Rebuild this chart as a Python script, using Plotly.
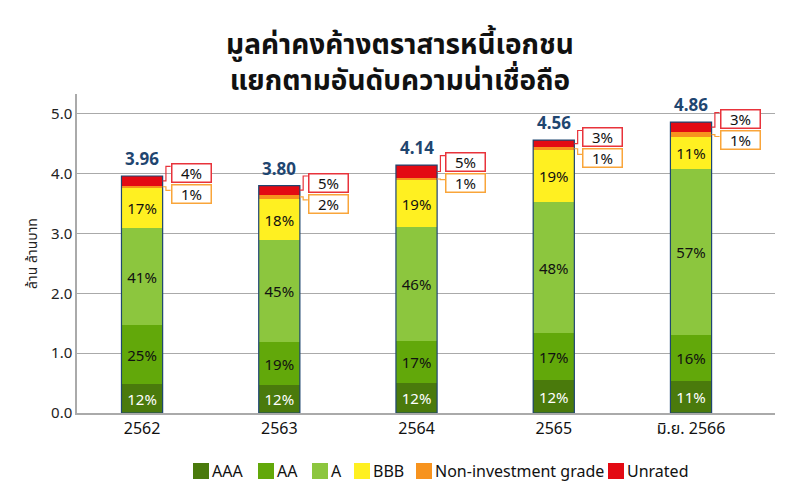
import plotly.graph_objects as go

categories = ["2562", "2563", "2564", "2565", "มิ.ย. 2566"]
totals = [3.96, 3.80, 4.14, 4.56, 4.86]

series_names = ["AAA", "AA", "A", "BBB", "Non-investment grade", "Unrated"]
aaa = [0.48, 0.46, 0.50, 0.55, 0.53]
aa = [0.99, 0.72, 0.70, 0.78, 0.78]
a_ = [1.62, 1.71, 1.90, 2.19, 2.77]
bbb = [0.67, 0.68, 0.79, 0.87, 0.53]
noninv = [0.04, 0.08, 0.04, 0.05, 0.08]
unrated = [0.16, 0.15, 0.21, 0.12, 0.17]

pct_aaa = ["12%", "12%", "12%", "12%", "11%"]
pct_aa = ["25%", "19%", "17%", "17%", "16%"]
pct_a = ["41%", "45%", "46%", "48%", "57%"]
pct_bbb = ["17%", "18%", "19%", "19%", "11%"]
pct_noninv = ["1%", "2%", "1%", "1%", "1%"]
pct_unrated = ["4%", "5%", "5%", "3%", "3%"]

colors = ["#4a7a0c", "#62a80a", "#8cc63e", "#fff021", "#f7931e", "#e30a13"]
navy = "#1f4670"
FONT = "Noto Sans, Noto Sans Thai, sans-serif"

values = [aaa, aa, a_, bbb, noninv, unrated]
labels = [pct_aaa, pct_aa, pct_a, pct_bbb, None, None]
text_colors = ["white", "#111111", "#111111", "#111111", "#111111", "#111111"]

xs = list(range(len(categories)))
BW = 0.30

fig = go.Figure()
for name, vals, lab, col, tc in zip(series_names, values, labels, colors, text_colors):
    fig.add_trace(go.Bar(
        x=xs, y=vals, name=name, width=BW,
        marker=dict(color=col, line=dict(width=0)),
        text=lab if lab else None,
        textposition="inside" if lab else "none",
        insidetextanchor="middle",
        textfont=dict(size=15, color=tc, family=FONT),
        hoverinfo="skip", showlegend=False,
    ))

shapes = []
annotations = []
half = BW / 2
for i, tot in enumerate(totals):
    shapes.append(dict(type="rect", xref="x", yref="y", x0=i - half, x1=i + half,
                       y0=0, y1=tot, line=dict(color=navy, width=1.2), fillcolor="rgba(0,0,0,0)",
                       layer="above"))
    annotations.append(dict(x=i, y=tot, xref="x", yref="y", text="<b>%.2f</b>" % tot,
                            showarrow=False, yanchor="bottom", yshift=4,
                            font=dict(size=17, color=navy, family=FONT)))
    bx = i + half + 0.058
    ex = i + half + 0.024
    y_red_mid = tot - unrated[i] / 2
    y_red_box = tot + 0.05
    shapes.append(dict(type="path", xref="x", yref="y",
                       path="M %f,%f L %f,%f L %f,%f L %f,%f" % (i + half, y_red_mid, ex, y_red_mid,
                                                               ex, y_red_box + 0.11, bx, y_red_box + 0.11),
                       line=dict(color="#e8333b", width=1.2)))
    annotations.append(dict(x=bx, y=y_red_box, xref="x", yref="y", text=pct_unrated[i],
                            showarrow=False, xanchor="left", yanchor="middle",
                            width=36, height=15, borderpad=1, borderwidth=1.5,
                            bordercolor="#e8333b", bgcolor="white",
                            font=dict(size=15, color="#111111", family=FONT)))
    y_or_mid = tot - unrated[i] - noninv[i] / 2
    y_or_box = tot - 0.30
    shapes.append(dict(type="path", xref="x", yref="y",
                       path="M %f,%f L %f,%f L %f,%f L %f,%f" % (i + half, y_or_mid, ex, y_or_mid,
                                                               ex, y_or_box + 0.06, bx, y_or_box + 0.06),
                       line=dict(color="#f9a53a", width=1.2)))
    annotations.append(dict(x=bx, y=y_or_box, xref="x", yref="y", text=pct_noninv[i],
                            showarrow=False, xanchor="left", yanchor="middle",
                            width=36, height=15, borderpad=1, borderwidth=1.5,
                            bordercolor="#f9a53a", bgcolor="white",
                            font=dict(size=15, color="#111111", family=FONT)))

# legend drawn below the plot (paper coordinates; plot area is x 77..775 px, y 94..413 px)
legend_square_left_px = [193, 258, 312, 354, 416, 608]
PL, PW, PT, PH = 77, 698, 94, 319


def px_x(p):
    return (p - PL) / PW


def px_y(p):
    return (PT + PH - p) / PH


for name, col, sx in zip(series_names, colors, legend_square_left_px):
    shapes.append(dict(type="rect", xref="paper", yref="paper",
                       x0=px_x(sx), x1=px_x(sx + 16), y0=px_y(479), y1=px_y(463),
                       fillcolor=col, line=dict(width=0)))
    annotations.append(dict(x=px_x(sx + 17), y=px_y(471), xref="paper", yref="paper",
                            xanchor="left", yanchor="middle", text=name, showarrow=False,
                            font=dict(size=16, color="#111111", family=FONT)))

fig.update_layout(
    width=800, height=501,
    barmode="stack",
    plot_bgcolor="white", paper_bgcolor="white",
    margin=dict(l=77, r=25, t=94, b=88, autoexpand=False),
    showlegend=False,
    title=dict(text="<b>มูลค่าคงค้างตราสารหนี้เอกชน<br>แยกตามอันดับความน่าเชื่อถือ</b>",
               x=0.5, xanchor="center", xref="container", yref="container", y=1 - 54 / 501,
               yanchor="middle",
               font=dict(size=28, color="#111111", family=FONT)),
    xaxis=dict(tickmode="array", tickvals=xs, ticktext=categories,
               range=[-0.474, 4.612], showgrid=False, showline=True,
               linecolor="#aaaaaa", linewidth=1.5, ticks="",
               tickfont=dict(size=16, color="#111111", family=FONT)),
    yaxis=dict(range=[0, 5.33], tickvals=[0, 1, 2, 3, 4, 5], tickformat=".1f",
               showgrid=True, gridcolor="#aaaaaa", gridwidth=1, zeroline=False,
               showline=True, linecolor="#aaaaaa", linewidth=1.5, ticks="",
               tickfont=dict(size=15, color="#222222", family=FONT),
               title=dict(text="ล้าน ล้านบาท", font=dict(size=14, color="#222222", family=FONT),
                          standoff=10)),
    shapes=shapes,
    annotations=annotations,
)

fig.write_html("out.html")
